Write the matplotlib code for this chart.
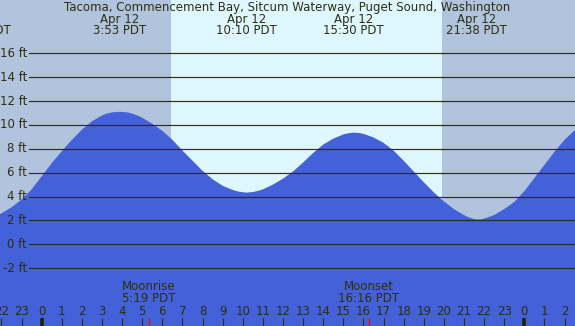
import numpy as np
import matplotlib
matplotlib.use("Agg")
import matplotlib.pyplot as plt
import matplotlib.transforms as mtransforms

# tide curve (hours from midnight Apr 12, feet)
hours = [-2.1, -1.5, -1.0, -0.5, 0.0, 0.5, 1.0, 1.5, 2.0, 2.5, 3.0, 3.25, 3.5, 3.9,
         4.25, 4.5, 4.89, 5.5, 6.0, 6.5, 7.0, 7.5, 8.0, 8.5, 9.0, 9.5, 9.75, 10.0, 10.2,
         10.5, 10.75, 11.0, 11.5, 12.0, 12.5, 13.0, 13.5, 14.0, 14.5, 15.0, 15.25, 15.5,
         15.75, 16.0, 16.5, 17.0, 17.5, 18.0, 18.5, 19.0, 19.5, 20.0, 20.5, 21.0, 21.25,
         21.5, 21.63, 21.8, 22.0, 22.5, 23.0, 23.5, 24.0, 24.5, 25.0, 25.5, 26.0, 26.6]
heights = [2.5, 3.1, 3.75, 4.6, 5.7, 6.8, 7.8, 8.75, 9.6, 10.3, 10.8, 10.95, 11.05, 11.1,
           11.05, 10.95, 10.7, 10.1, 9.5, 8.75, 7.85, 7.0, 6.15, 5.45, 4.9, 4.55, 4.43, 4.36, 4.33,
           4.38, 4.47, 4.6, 5.0, 5.5, 6.1, 6.85, 7.65, 8.35, 8.85, 9.2, 9.3, 9.35,
           9.33, 9.25, 8.95, 8.5, 7.85, 7.0, 6.1, 5.2, 4.35, 3.6, 2.95, 2.45, 2.25,
           2.12, 2.08, 2.09, 2.15, 2.45, 2.95, 3.55, 4.45, 5.55, 6.65, 7.75, 8.75, 9.7]

# high / low labels at the top
event_hours = [-3.07, 3.883, 10.167, 15.5, 21.633]
event_dates = ["Apr 11", "Apr 12", "Apr 12", "Apr 12", "Apr 12"]
event_times = ["20:56 PDT", "3:53 PDT", "10:10 PDT", "15:30 PDT", "21:38 PDT"]

# moon events
moon_hours = [5.317, 16.267]
moon_names = ["Moonrise", "Moonset"]
moon_times = ["5:19 PDT", "16:16 PDT"]

sunrise, sunset = 6.43, 19.9
levels = [-2, 0, 2, 4, 6, 8, 10, 12, 14, 16]
tick_hours = list(range(-2, 27))

title = "Tacoma, Commencement Bay, Sitcum Waterway, Puget Sound, Washington"

night = "#B0C4DE"
day = "#DEF7FF"
water = "#4361D8"
ink = "#2E2E0E"
W, H = 575, 326

fig = plt.figure(figsize=(W / 100, H / 100), dpi=100)
ax = fig.add_axes([0, 0, 1, 1])
ax.set_xlim(-2.074, 26.52)
ax.set_ylim(-6.84, 20.46)
ax.set_facecolor(night)
ax.axis("off")
fig.patch.set_facecolor(night)

ax.axvspan(sunrise, sunset, color=day, lw=0, zorder=0)
ax.fill_between(hours, heights, -10, color=water, lw=0, zorder=1)

fs = 8.5
for lv in levels:
    ax.axhline(lv, xmin=29 / W, xmax=1, color=ink, lw=0.85, zorder=2)
    ax.text(27 / W, lv, "%d ft" % lv, transform=ax.get_yaxis_transform(),
            ha="right", va="center", fontsize=fs, color=ink, zorder=3)

top = mtransforms.blended_transform_factory(ax.transData, fig.transFigure)
ax.text(0.5, 1 - 7 / H, title, transform=fig.transFigure, ha="center",
        va="center", fontsize=fs, color=ink)
for h, d, t in zip(event_hours, event_dates, event_times):
    ax.text(h, 1 - 19 / H, d, transform=top, ha="center", va="center",
            fontsize=fs, color=ink)
    ax.text(h, 1 - 31 / H, t, transform=top, ha="center", va="center",
            fontsize=fs, color=ink)

for h, n, t in zip(moon_hours, moon_names, moon_times):
    ax.text(h, 1 - 287 / H, n, transform=top, ha="center", va="center",
            fontsize=fs, color=ink)
    ax.text(h, 1 - 299 / H, t, transform=top, ha="center", va="center",
            fontsize=fs, color=ink)
    ax.vlines(h, 0, 8 / H, transform=top, color="red", lw=0.9, zorder=4)

for h in tick_hours:
    thick = (h % 24 == 0)
    ax.vlines(h, 0, 8 / H, transform=top, color="#222200" if thick else ink,
              lw=2.6 if thick else 0.8)
    ax.text(h, 1 - 311.5 / H, str(h % 24), transform=top, ha="center",
            va="center", fontsize=fs, color=ink)

fig.savefig("out.png", dpi=100, facecolor=fig.get_facecolor())
